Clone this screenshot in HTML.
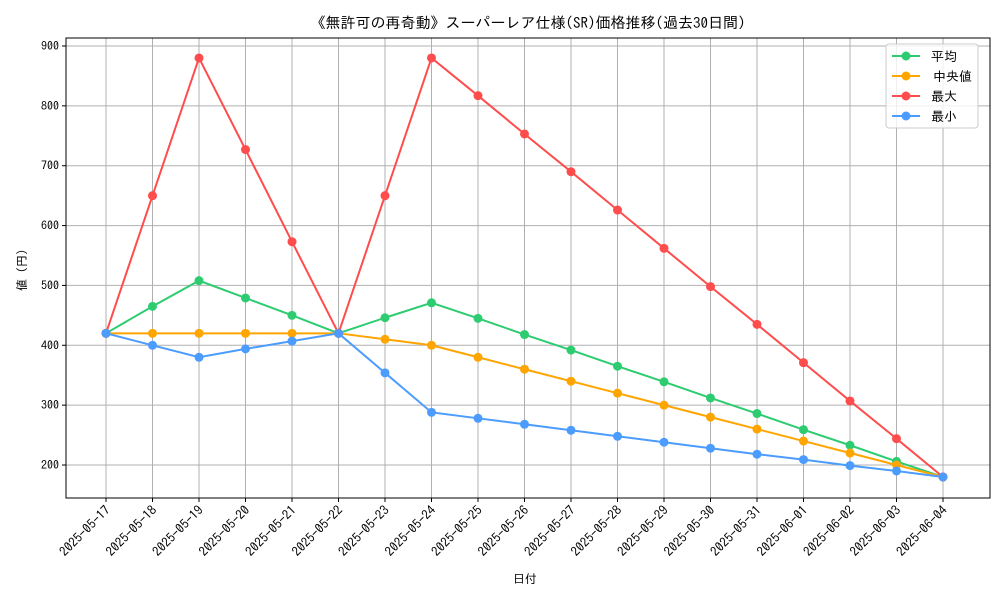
<!DOCTYPE html>
<html><head><meta charset="utf-8"><style>
body{margin:0;background:#fff}
svg text{font-family:"IPAGothic","Noto Sans CJK JP",sans-serif;fill:#000}
</style></head><body>
<svg id="c" width="1000" height="600"></svg>
<script>
const categories=["2025-05-17","2025-05-18","2025-05-19","2025-05-20","2025-05-21","2025-05-22","2025-05-23","2025-05-24","2025-05-25","2025-05-26","2025-05-27","2025-05-28","2025-05-29","2025-05-30","2025-05-31","2025-06-01","2025-06-02","2025-06-03","2025-06-04"];
const avgValues=[420,465,508,479,450,420,446,471,445,418,392,365,339,312,286,259,233,206,180];
const medianValues=[420,420,420,420,420,420,410,400,380,360,340,320,300,280,260,240,220,200,180];
const maxValues=[420,650,880,727,573,420,650,880,817,753,690,626,562,498,435,371,307,244,180];
const minValues=[420,400,380,394,407,420,354,288,278,268,258,248,238,228,218,209,199,190,180];
const yTicks=[200,300,400,500,600,700,800,900];
const seriesNames=["平均","中央値","最大","最小"];
const seriesColors=["#2ecc71","#ffa500","#ff4c4c","#4c9cff"];
const svg=document.getElementById('c');const NS="http://www.w3.org/2000/svg";
function mk(t,a,txt){const e=document.createElementNS(NS,t);for(const k in a)e.setAttribute(k,a[k]);if(txt!==undefined)e.textContent=txt;svg.appendChild(e);return e;}
const L=66,R=990,T=38,B=498;
const x=i=>106+i*(943-106)/(categories.length-1);
const y=v=>465-(v-200)*(465-46)/700;
yTicks.forEach(v=>{const g=mk('line',{x1:L,x2:R,y1:y(v),y2:y(v),stroke:'#b0b0b0','stroke-width':1});

const tk=mk('line',{x1:L-4,x2:L,y1:y(v),y2:y(v),stroke:'#000'});
const t=mk('text',{x:L-7,y:y(v)+4,'text-anchor':'end','font-size':12},v);});
categories.forEach((c,i)=>{const g=mk('line',{x1:x(i),x2:x(i),y1:T,y2:B,stroke:'#b0b0b0','stroke-width':1});

const tk=mk('line',{x1:x(i),x2:x(i),y1:B,y2:B+4,stroke:'#000'});
const t=mk('text',{x:x(i)+5,y:B+13,'text-anchor':'end','font-size':13,transform:`rotate(-45 ${x(i)+5} ${B+13})`},c);});
const fr=mk('rect',{x:L,y:T,width:R-L,height:B-T,fill:'none',stroke:'#000'});
[avgValues,medianValues,maxValues,minValues].forEach((vals,s)=>{
const p=mk('polyline',{points:vals.map((v,i)=>x(i)+','+y(v)).join(' '),fill:'none',stroke:seriesColors[s],'stroke-width':2});

vals.forEach((v,i)=>{const c=mk('circle',{cx:x(i),cy:y(v),r:4.5,fill:seriesColors[s]});});});
const tt=mk('text',{x:528,y:28,'text-anchor':'middle','font-size':15},'《無許可の再奇動》スーパーレア仕様(SR)価格推移(過去30日間)');
const xt=mk('text',{x:525,y:583,'text-anchor':'middle','font-size':12},'日付');
const yt=mk('text',{x:26,y:270,'text-anchor':'middle','font-size':12,transform:'rotate(-90 26 270)'},'値 (円)');
const lb=mk('rect',{x:886,y:44,width:92,height:84,rx:3,fill:'#fff','fill-opacity':0.8,stroke:'#ccc'});
seriesNames.forEach((n,s)=>{const yy=56+s*20;
const l=mk('line',{x1:892,x2:920,y1:yy,y2:yy,stroke:seriesColors[s],'stroke-width':2});
const c=mk('circle',{cx:906,cy:yy,r:4.5,fill:seriesColors[s]});
const t=mk('text',{x:s==1?933:931,y:yy+5,'font-size':13},n);});
</script></body></html>
